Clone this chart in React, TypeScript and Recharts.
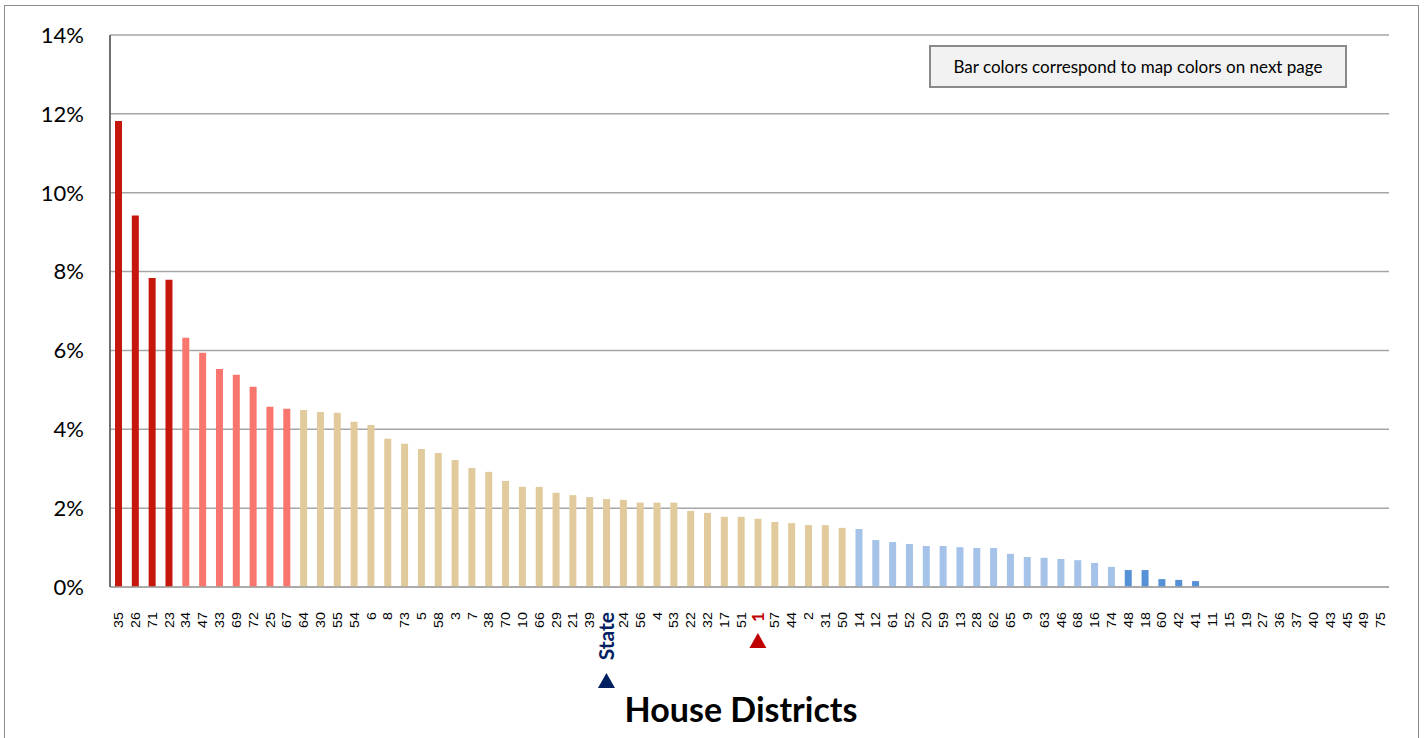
import React from 'react'
import { BarChart, Bar, XAxis, YAxis, CartesianGrid, Cell } from 'recharts'

// district labels in chart order (sorted by rate, descending)
const districts = [
  '35', '26', '71', '23', '34', '47', '33', '69', '72', '25', '67',
  '64', '30', '55', '54', '6', '8', '73', '5', '58', '3', '7', '38', '70', '10', '66', '29', '21', '39',
  'State', '24', '56', '4', '53', '22', '32', '17', '51', '1', '57', '44', '2', '31', '50',
  '14', '12', '61', '52', '20', '59', '13', '28', '62', '65', '9', '63', '46', '68', '16', '74',
  '48', '18', '60', '42', '41',
  '11', '15', '19', '27', '36', '37', '40', '43', '45', '49', '75',
]

// percent values
const rates = [
  11.82, 9.42, 7.84, 7.79, 6.32, 5.94, 5.53, 5.38, 5.08, 4.57, 4.52,
  4.49, 4.44, 4.42, 4.19, 4.11, 3.76, 3.63, 3.5, 3.4, 3.22, 3.02, 2.92, 2.69, 2.54, 2.54, 2.39, 2.33, 2.28,
  2.23, 2.21, 2.14, 2.14, 2.14, 1.93, 1.88, 1.78, 1.78, 1.73, 1.65, 1.62, 1.57, 1.57, 1.5,
  1.47, 1.19, 1.14, 1.09, 1.04, 1.04, 1.01, 0.99, 0.99, 0.84, 0.76, 0.74, 0.71, 0.68, 0.61, 0.51,
  0.43, 0.43, 0.2, 0.18, 0.15,
  0, 0, 0, 0, 0, 0, 0, 0, 0, 0, 0,
]

// map colour group of each bar
const tiers = [
  'A', 'A', 'A', 'A', 'B', 'B', 'B', 'B', 'B', 'B', 'B',
  'C', 'C', 'C', 'C', 'C', 'C', 'C', 'C', 'C', 'C', 'C', 'C', 'C', 'C', 'C', 'C', 'C', 'C',
  'C', 'C', 'C', 'C', 'C', 'C', 'C', 'C', 'C', 'C', 'C', 'C', 'C', 'C', 'C',
  'D', 'D', 'D', 'D', 'D', 'D', 'D', 'D', 'D', 'D', 'D', 'D', 'D', 'D', 'D', 'D',
  'E', 'E', 'E', 'E', 'E',
  'E', 'E', 'E', 'E', 'E', 'E', 'E', 'E', 'E', 'E', 'E',
]

const yTicks = [0, 2, 4, 6, 8, 10, 12, 14]

const tierColors: Record<string, string> = {
  A: '#C5170C',
  B: '#F8766E',
  C: '#E1CB9C',
  D: '#A5C3E8',
  E: '#5591D6',
}

const data = districts.map((d, i) => ({ district: d, rate: rates[i], tier: tiers[i] }))

const DistrictTick = (props: any) => {
  const { x, y, payload } = props
  const label = payload.value
  if (label === 'State') {
    return (
      <g transform={`translate(${x},${y})`}>
        <text transform="rotate(-90) translate(-25,0)" dy="0.36em" textAnchor="end"
          fontFamily="Lato" fontWeight={700} fontSize={21} fill="#002060">
          State
        </text>
        <polygon points="-8.5,101 8.5,101 0,86" fill="#002060" />
      </g>
    )
  }
  if (label === '1') {
    return (
      <g transform={`translate(${x},${y})`}>
        <text transform="rotate(-90) translate(-25,0)" dy="0.36em" textAnchor="end"
          fontFamily="Lato" fontWeight={700} fontSize={17} fill="#C00000">
          1
        </text>
        <polygon points="-8.5,61 8.5,61 0,46" fill="#C00000" />
      </g>
    )
  }
  return (
    <g transform={`translate(${x},${y})`}>
      <text transform="rotate(-90) translate(-25,0) scale(1.1,1)" dy="0.36em" textAnchor="end"
        fontFamily="Liberation Sans" fontSize={13} fill="#000">
        {label}
      </text>
    </g>
  )
}

export default function App() {
  return (
    <div style={{ position: 'fixed', left: 0, top: 0, width: 1425, height: 738, overflow: 'hidden', background: '#fff' }}>
      <div style={{ position: 'absolute', left: 4, top: 5, width: 1413, height: 800, border: '1.5px solid #8c8c8c' }} />
      <div style={{ position: 'absolute', left: 0, top: 0 }}>
        <BarChart width={1425} height={738} data={data} margin={{ top: 35, right: 36, bottom: 0, left: 0 }} barCategoryGap={0}>
          <CartesianGrid vertical={false} stroke="#A6A6A6" strokeWidth={1.5} />
          <XAxis
            dataKey="district"
            interval={0}
            height={151}
            tickSize={0}
            tickMargin={0}
            tickLine={false}
            axisLine={{ stroke: '#A6A6A6', strokeWidth: 1.5 }}
            tick={<DistrictTick />}
          />
          <YAxis
            width={110}
            domain={[0, 14]}
            ticks={yTicks}
            allowDataOverflow
            tickFormatter={(v: number) => `${v}%`}
            tickSize={0}
            tickMargin={26}
            tickLine={false}
            axisLine={{ stroke: '#6f6f6f', strokeWidth: 2 }}
            tick={{ fill: '#000', fontFamily: 'Lato', fontSize: 22 }}
          />
          <YAxis yAxisId="frame" orientation="right" width={0} tick={false} tickLine={false}
            axisLine={{ stroke: '#BFBFBF', strokeWidth: 1.5 }} />
          <Bar dataKey="rate" barSize={7} isAnimationActive={false}>
            {data.map((d) => (
              <Cell key={d.district} fill={tierColors[d.tier]} />
            ))}
          </Bar>
        </BarChart>
      </div>
      <div style={{
        position: 'absolute', left: 929, top: 45, width: 414, height: 39,
        background: '#F2F2F2', border: '2px solid #8a8a8a',
        display: 'flex', alignItems: 'center', justifyContent: 'center',
        fontFamily: 'Lato', fontSize: 17, color: '#000',
      }}>
        Bar colors correspond to map colors on next page
      </div>
      <div style={{
        position: 'absolute', left: 491, top: 688, width: 500, textAlign: 'center',
        fontFamily: 'Lato', fontWeight: 700, fontSize: 34, color: '#000',
      }}>
        House Districts
      </div>
    </div>
  )
}
